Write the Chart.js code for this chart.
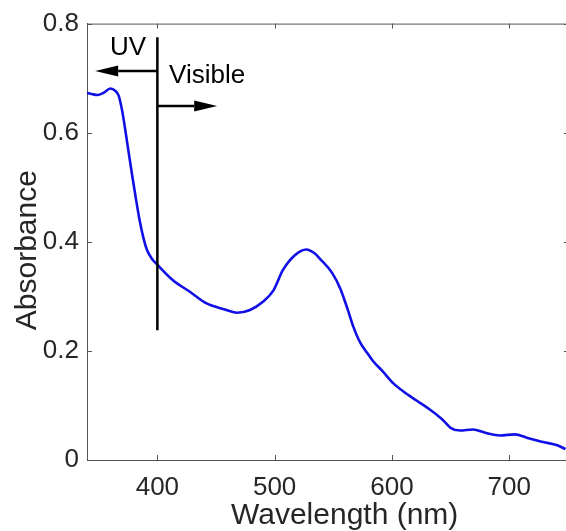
<!DOCTYPE html>
<html>
<head>
<meta charset="utf-8">
<script src="https://cdn.jsdelivr.net/npm/chart.js@4/dist/chart.umd.min.js"></script>
<style>
  html, body { margin: 0; padding: 0; background: #fff; overflow: hidden; }
  #wrap { width: 571px; height: 531px; }
</style>
</head>
<body>
<div id="wrap"><canvas id="spectrum"></canvas></div>
<script>
// wavelength (nm) and absorbance
const wavelength = [340, 344, 349, 354, 360, 364, 367, 370, 373, 376, 379, 382, 385, 388, 391, 395, 400,
  413, 428, 442, 456, 468, 479, 490, 499, 507, 517, 527, 534, 539, 549, 556, 562, 567, 573, 579,
  584, 592, 601, 609, 621, 632, 641, 645, 650, 658, 669, 681, 692, 705, 715, 729, 741, 748];
const absorbance = [0.673, 0.671, 0.669, 0.673, 0.681, 0.677, 0.668, 0.640, 0.600, 0.557, 0.515,
  0.475, 0.438, 0.408, 0.386, 0.370, 0.358, 0.330, 0.308, 0.287, 0.277, 0.270, 0.275, 0.290, 0.311, 0.348,
  0.375, 0.386, 0.379, 0.368, 0.343, 0.314, 0.278, 0.245, 0.215, 0.196, 0.181, 0.163, 0.141, 0.127,
  0.109, 0.093, 0.078, 0.070, 0.059, 0.054, 0.056, 0.049, 0.045, 0.047, 0.041, 0.033, 0.027, 0.020];

const xTicks = [400, 500, 600, 700];
const yTicks = [0, 0.2, 0.4, 0.6, 0.8];

// UV / visible divider and the two arrows
const divider = { x: 400, yFrom: 0.238, yTo: 0.775 };
const uvArrow = { from: 400, to: 347, y: 0.713 };
const visArrow = { from: 400, to: 451, y: 0.649 };
const uvLabel = { text: 'UV', x: 375, y: 0.756 };
const visLabel = { text: 'Visible', x: 410, y: 0.704 };

const textColor = '#262626';
const axisColor = '#555555';
const fontFamily = '"Liberation Sans", Arial, sans-serif';

const points = wavelength.map((w, i) => ({ x: w, y: absorbance[i] }));

function arrow(ctx, x0, x1, y) {
  const dir = x1 > x0 ? 1 : -1;
  const head = 23;
  ctx.beginPath();
  ctx.moveTo(x0, y);
  ctx.lineTo(x1 - dir * head, y);
  ctx.stroke();
  ctx.beginPath();
  ctx.moveTo(x1, y);
  ctx.lineTo(x1 - dir * head, y - 5.5);
  ctx.lineTo(x1 - dir * head, y + 5.5);
  ctx.closePath();
  ctx.fill();
}

const frame = {
  id: 'frame',
  afterDatasetsDraw(chart) {
    const { ctx, chartArea: a, scales: { x, y } } = chart;
    ctx.save();
    // box and inward ticks
    ctx.strokeStyle = axisColor;
    ctx.lineWidth = 1;
    ctx.beginPath();
    ctx.moveTo(a.left, a.top + 0.5);
    ctx.lineTo(a.right, a.top + 0.5);
    ctx.moveTo(a.right - 0.5, a.top);
    ctx.lineTo(a.right - 0.5, a.bottom);
    xTicks.forEach(v => {
      const px = Math.round(x.getPixelForValue(v)) + 0.5;
      ctx.moveTo(px, a.bottom); ctx.lineTo(px, a.bottom - 5);
      ctx.moveTo(px, a.top); ctx.lineTo(px, a.top + 5);
    });
    yTicks.forEach(v => {
      const py = Math.round(y.getPixelForValue(v)) + 0.5;
      ctx.moveTo(a.left, py); ctx.lineTo(a.left + 5, py);
      ctx.moveTo(a.right, py); ctx.lineTo(a.right - 5, py);
    });
    ctx.stroke();

    // divider and arrows
    ctx.strokeStyle = '#000';
    ctx.fillStyle = '#000';
    ctx.lineWidth = 2.5;
    const dx = x.getPixelForValue(divider.x);
    ctx.beginPath();
    ctx.moveTo(dx, y.getPixelForValue(divider.yFrom));
    ctx.lineTo(dx, y.getPixelForValue(divider.yTo));
    ctx.stroke();
    arrow(ctx, x.getPixelForValue(uvArrow.from), x.getPixelForValue(uvArrow.to), y.getPixelForValue(uvArrow.y));
    arrow(ctx, x.getPixelForValue(visArrow.from), x.getPixelForValue(visArrow.to), y.getPixelForValue(visArrow.y));

    ctx.font = '26px ' + fontFamily;
    ctx.fillStyle = '#000';
    ctx.textBaseline = 'middle';
    ctx.textAlign = 'center';
    ctx.fillText(uvLabel.text, x.getPixelForValue(uvLabel.x), y.getPixelForValue(uvLabel.y));
    ctx.textAlign = 'left';
    ctx.fillText(visLabel.text, x.getPixelForValue(visLabel.x), y.getPixelForValue(visLabel.y));
    ctx.restore();
  }
};

new Chart(document.getElementById('spectrum'), {
  type: 'line',
  data: {
    datasets: [{
      data: points,
      borderColor: '#1010e6',
      borderWidth: 2.6,
      pointRadius: 0,
      cubicInterpolationMode: 'monotone',
      fill: false
    }]
  },
  options: {
    responsive: true,
    maintainAspectRatio: false,
    animation: false,
    layout: { padding: { top: 19, right: 2, left: 0, bottom: 0 } },
    plugins: { legend: { display: false }, tooltip: { enabled: false } },
    scales: {
      x: {
        type: 'linear',
        min: 340,
        max: 751,
        afterBuildTicks: s => { s.ticks = xTicks.map(v => ({ value: v })); },
        afterFit: s => { s.height = 71; },
        grid: { drawOnChartArea: false, drawTicks: false },
        border: { color: axisColor, width: 1 },
        ticks: {
          color: textColor,
          padding: 12,
          maxRotation: 0,
          font: { family: fontFamily, size: 26 }
        },
        title: {
          display: true,
          text: '    Wavelength (nm)',
          color: textColor,
          padding: { top: 0, bottom: 0 },
          font: { family: fontFamily, size: 30, lineHeight: 1 }
        }
      },
      y: {
        min: 0,
        max: 0.8,
        afterBuildTicks: s => { s.ticks = yTicks.map(v => ({ value: v })); },
        afterFit: s => { s.width = 87; },
        grid: { drawOnChartArea: false, drawTicks: false },
        border: { color: axisColor, width: 1 },
        ticks: {
          color: textColor,
          padding: 8,
          callback: v => v === 0 ? '0' : v.toFixed(1),
          font: { family: fontFamily, size: 26 }
        },
        title: {
          display: true,
          text: 'Absorbance  ',
          color: textColor,
          padding: { top: 10, bottom: 0 },
          font: { family: fontFamily, size: 30 }
        }
      }
    }
  },
  plugins: [frame]
});
</script>
</body>
</html>
